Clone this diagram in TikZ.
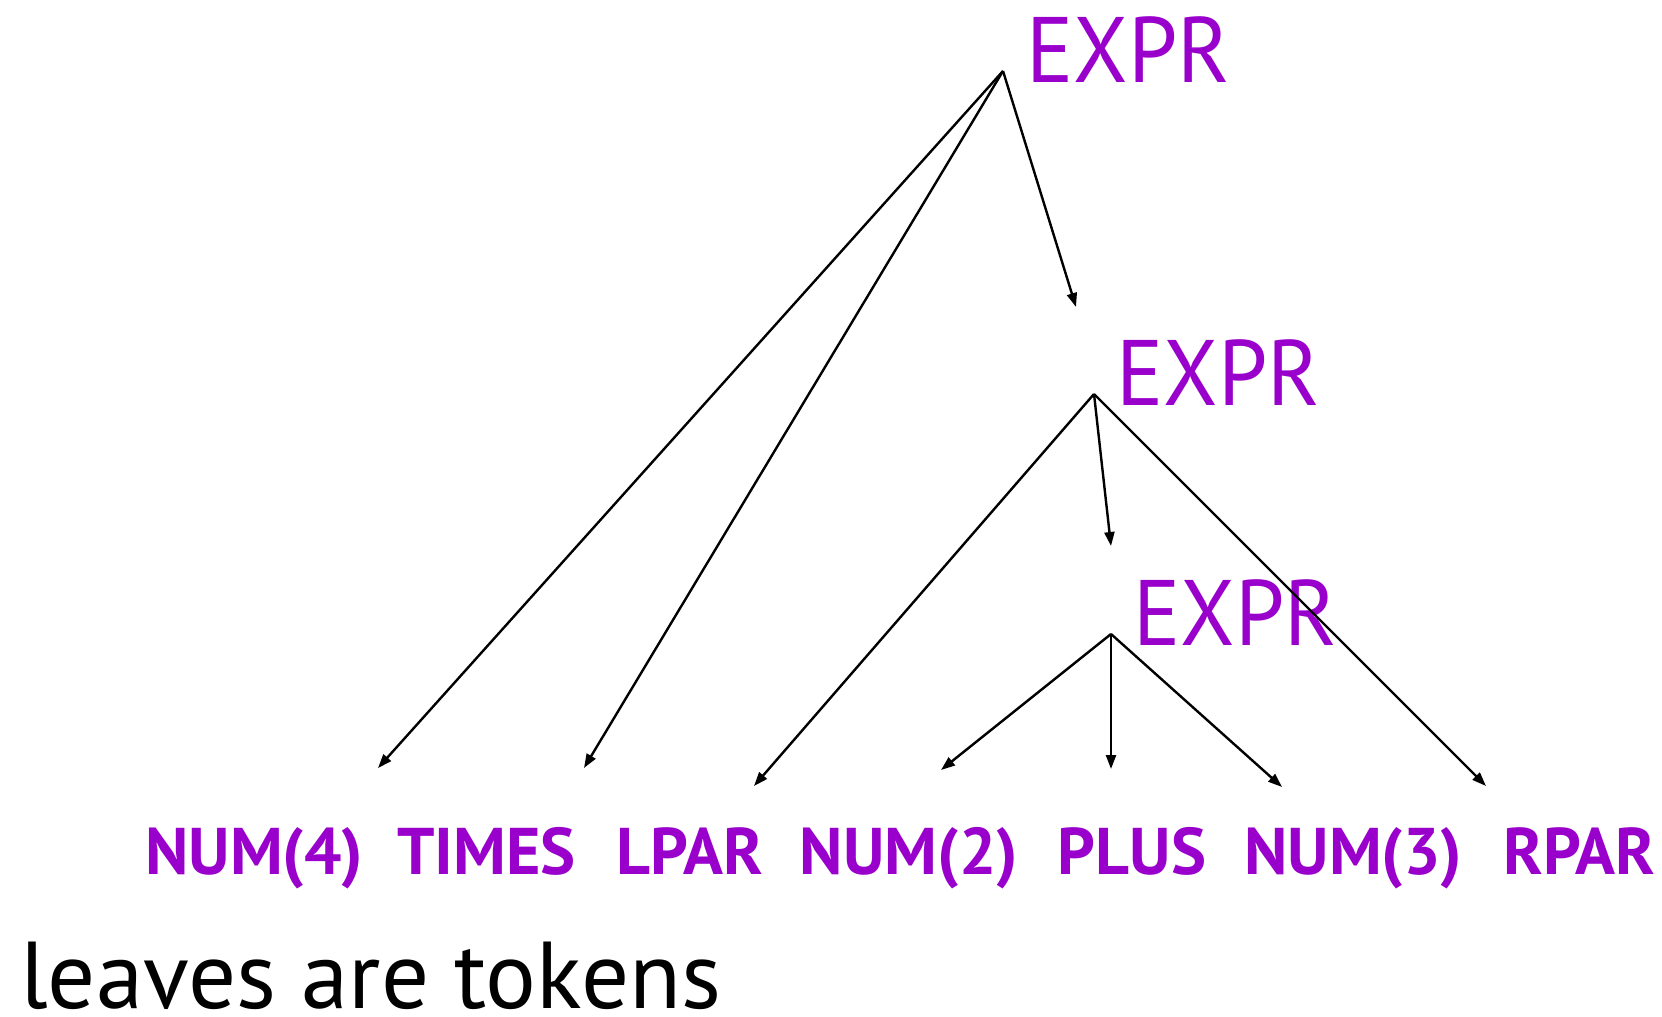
\documentclass[tikz,border=0pt]{standalone}
\usepackage{fontspec}
\setmainfont{PT Sans}
\newfontfamily\exprfont[FakeStretch=0.95]{PT Sans}
\usetikzlibrary{arrows.meta}
\definecolor{gram}{RGB}{153,0,204}
\begin{document}
\begin{tikzpicture}[x=1pt,y=-1pt,
  nonterm/.style={text=gram, font=\exprfont\fontsize{93}{100}\selectfont, inner sep=0pt, anchor=base west},
  token/.style={text=gram, font=\bfseries\fontsize{66}{70}\selectfont, inner sep=0pt, anchor=base},
  caption/.style={text=black, font=\fontsize{95}{100}\selectfont, inner sep=0pt, anchor=base west},
  edge/.style={line width=2.4pt, -{Triangle[length=14pt,width=10pt]}}]
\useasboundingbox[fill=white] (0,0) rectangle (1662,1017);

% non-terminals
\node[nonterm] (e1) at (1026,82)  {EXPR};
\node[nonterm] (e2) at (1116,405) {EXPR};
\node[nonterm] (e3) at (1133,645) {EXPR};

% branch points of each non-terminal
\coordinate (a1) at (1003,71);
\coordinate (a2) at (1094,394);
\coordinate (a3) at (1111,634);

% tokens
\node[token] (t1) at (254.5,874)  {NUM(4)};
\node[token] (t2) at (486.5,874)  {TIMES};
\node[token] (t3) at (690,874)    {LPAR};
\node[token] (t4) at (909,874)    {NUM(2)};
\node[token] (t5) at (1132,874)   {PLUS};
\node[token] (t6) at (1353.5,874) {NUM(3)};
\node[token] (t7) at (1579.5,874) {RPAR};

% arrow ends
\coordinate (p1) at (378,768);
\coordinate (p2) at (584,768);
\coordinate (p3) at (1076,307);
\coordinate (q1) at (754,786);
\coordinate (q2) at (1111,546);
\coordinate (q3) at (1486,786);
\coordinate (r1) at (941,770);
\coordinate (r2) at (1111,769);
\coordinate (r3) at (1282,787);

\draw[edge] (a1) -- (p1);
\draw[edge] (a1) -- (p2);
\draw[edge] (a1) -- (p3);
\draw[edge] (a2) -- (q1);
\draw[edge] (a2) -- (q2);
\draw[edge] (a2) -- (q3);
\draw[edge] (a3) -- (r1);
\draw[edge] (a3) -- (r2);
\draw[edge] (a3) -- (r3);

\node[caption] (note) at (20,1008) {leaves are tokens};
\end{tikzpicture}
\end{document}
